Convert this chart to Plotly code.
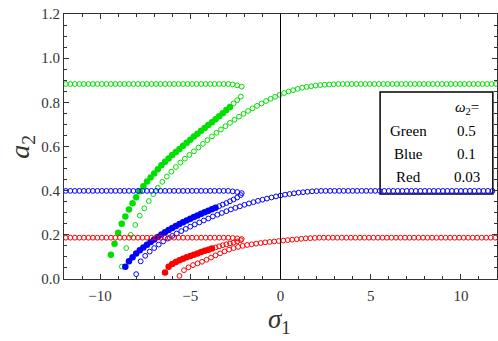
import plotly.graph_objects as go

# ---------------- data ----------------
# left flat branches (shared sigma grid)
sigma_flat = [-11.9, -11.65, -11.4, -11.15, -10.9, -10.65, -10.4, -10.15, -9.9, -9.65,
              -9.4, -9.15, -8.9, -8.65, -8.4, -8.15, -7.9, -7.65, -7.4, -7.15,
              -6.9, -6.65, -6.4, -6.15, -5.9, -5.65, -5.4, -5.15, -4.9, -4.65,
              -4.4, -4.15, -3.9, -3.65, -3.4, -3.15, -2.9, -2.65, -2.4, -2.15]
a_green_flat = [0.883, 0.883, 0.883, 0.883, 0.883, 0.883, 0.883, 0.883, 0.883, 0.883,
                0.883, 0.883, 0.883, 0.883, 0.883, 0.883, 0.883, 0.883, 0.883, 0.883,
                0.883, 0.883, 0.883, 0.883, 0.883, 0.883, 0.883, 0.883, 0.883, 0.883,
                0.883, 0.883, 0.883, 0.883, 0.883, 0.883, 0.883, 0.881, 0.877, 0.871]
a_blue_flat = [0.399, 0.399, 0.399, 0.399, 0.399, 0.399, 0.399, 0.399, 0.399, 0.399,
               0.399, 0.399, 0.399, 0.399, 0.399, 0.399, 0.399, 0.399, 0.399, 0.399,
               0.399, 0.399, 0.399, 0.399, 0.399, 0.399, 0.399, 0.399, 0.399, 0.399,
               0.399, 0.399, 0.399, 0.399, 0.399, 0.399, 0.399, 0.397, 0.394, 0.389]
a_red_flat = [0.187, 0.187, 0.187, 0.187, 0.187, 0.187, 0.187, 0.187, 0.187, 0.187,
              0.187, 0.187, 0.187, 0.187, 0.187, 0.187, 0.187, 0.187, 0.187, 0.187,
              0.187, 0.187, 0.187, 0.187, 0.187, 0.187, 0.187, 0.187, 0.187, 0.187,
              0.187, 0.187, 0.187, 0.187, 0.187, 0.187, 0.187, 0.186, 0.184, 0.181]

# green (omega2 = 0.5)
sigma_green_fill = [-9.4, -9.2, -9.0, -8.8, -8.6, -8.4, -8.2, -8.0, -7.8, -7.6,
                    -7.4, -7.2, -7.0, -6.8, -6.6, -6.4, -6.2, -6.0, -5.8, -5.6,
                    -5.4, -5.2, -5.0, -4.8, -4.6, -4.4, -4.2, -4.0, -3.8, -3.6,
                    -3.4, -3.2, -3.0, -2.8]
a_green_fill = [0.11, 0.16, 0.21, 0.25, 0.283, 0.315, 0.343, 0.37, 0.397, 0.42,
                0.441, 0.46, 0.478, 0.497, 0.515, 0.531, 0.546, 0.561, 0.575, 0.589,
                0.603, 0.617, 0.631, 0.645, 0.658, 0.671, 0.684, 0.697, 0.71, 0.723,
                0.737, 0.751, 0.765, 0.779]
sigma_green_fold = [-2.6, -2.4, -2.2]
a_green_fold = [0.795, 0.81, 0.826]
sigma_green_lower = [-8.8, -8.55, -8.3, -8.05, -7.8, -7.55, -7.3, -7.05, -6.8, -6.55,
                     -6.3, -6.05, -5.8, -5.55, -5.3, -5.05, -4.8, -4.55, -4.3, -4.05,
                     -3.8, -3.55, -3.3, -3.05, -2.8, -2.55, -2.3, -2.05, -1.8, -1.55,
                     -1.3, -1.05, -0.8, -0.55, -0.3, -0.05, 0.2, 0.45, 0.7, 0.95,
                     1.2, 1.45, 1.7, 1.95, 2.2, 2.45, 2.7, 2.95, 3.2, 3.45,
                     3.7, 3.95, 4.2, 4.45, 4.7, 4.95, 5.2, 5.45, 5.7, 5.95,
                     6.2, 6.45, 6.7, 6.95, 7.2, 7.45, 7.7, 7.95, 8.2, 8.45,
                     8.7, 8.95, 9.2, 9.45, 9.7, 9.95, 10.2, 10.45, 10.7, 10.95,
                     11.2, 11.45, 11.7, 11.95]
a_green_lower = [0.056, 0.14, 0.2, 0.245, 0.287, 0.32, 0.353, 0.384, 0.413, 0.44,
                 0.464, 0.486, 0.507, 0.527, 0.545, 0.562, 0.578, 0.595, 0.612, 0.629,
                 0.646, 0.662, 0.677, 0.692, 0.707, 0.721, 0.735, 0.748, 0.761, 0.773,
                 0.784, 0.795, 0.806, 0.816, 0.825, 0.834, 0.842, 0.849, 0.855, 0.861,
                 0.866, 0.87, 0.873, 0.876, 0.878, 0.88, 0.881, 0.882, 0.883, 0.883,
                 0.883, 0.883, 0.883, 0.883, 0.883, 0.883, 0.883, 0.883, 0.883, 0.883,
                 0.883, 0.883, 0.883, 0.883, 0.883, 0.883, 0.883, 0.883, 0.883, 0.883,
                 0.883, 0.883, 0.883, 0.883, 0.883, 0.883, 0.883, 0.883, 0.883, 0.883,
                 0.883, 0.883, 0.883, 0.883]

# blue (omega2 = 0.1)
sigma_blue_fill = [-8.6, -8.4, -8.2, -8.0, -7.8, -7.6, -7.4, -7.2, -7.0, -6.8,
                   -6.6, -6.4, -6.2, -6.0, -5.8, -5.6, -5.4, -5.2, -5.0, -4.8,
                   -4.6, -4.4, -4.2, -4.0, -3.8, -3.6]
a_blue_fill = [0.055, 0.08, 0.099, 0.115, 0.13, 0.143, 0.155, 0.167, 0.179, 0.19,
               0.201, 0.212, 0.222, 0.231, 0.24, 0.249, 0.257, 0.265, 0.273, 0.281,
               0.288, 0.295, 0.302, 0.309, 0.316, 0.323]
sigma_blue_fold = [-3.4, -3.2, -3.0, -2.8, -2.6, -2.4, -2.2]
a_blue_fold = [0.33, 0.337, 0.344, 0.352, 0.36, 0.369, 0.38]
sigma_blue_lower = [-8.0, -7.75, -7.5, -7.25, -7.0, -6.75, -6.5, -6.25, -6.0, -5.75,
                    -5.5, -5.25, -5.0, -4.75, -4.5, -4.25, -4.0, -3.75, -3.5, -3.25,
                    -3.0, -2.75, -2.5, -2.25, -2.0, -1.75, -1.5, -1.25, -1.0, -0.75,
                    -0.5, -0.25, 0.0, 0.25, 0.5, 0.75, 1.0, 1.25, 1.5, 1.75,
                    2.0, 2.25, 2.5, 2.75, 3.0, 3.25, 3.5, 3.75, 4.0, 4.25,
                    4.5, 4.75, 5.0, 5.25, 5.5, 5.75, 6.0, 6.25, 6.5, 6.75,
                    7.0, 7.25, 7.5, 7.75, 8.0, 8.25, 8.5, 8.75, 9.0, 9.25,
                    9.5, 9.75, 10.0, 10.25, 10.5, 10.75, 11.0, 11.25, 11.5, 11.75]
a_blue_lower = [0.022, 0.08, 0.105, 0.124, 0.14, 0.156, 0.17, 0.183, 0.195, 0.206,
                0.217, 0.227, 0.237, 0.247, 0.256, 0.265, 0.274, 0.283, 0.291, 0.299,
                0.307, 0.315, 0.322, 0.329, 0.336, 0.342, 0.348, 0.354, 0.359, 0.364,
                0.369, 0.374, 0.378, 0.382, 0.385, 0.388, 0.391, 0.393, 0.395, 0.397,
                0.398, 0.399, 0.399, 0.399, 0.399, 0.399, 0.399, 0.399, 0.399, 0.399,
                0.399, 0.399, 0.399, 0.399, 0.399, 0.399, 0.399, 0.399, 0.399, 0.399,
                0.399, 0.399, 0.399, 0.399, 0.399, 0.399, 0.399, 0.399, 0.399, 0.399,
                0.399, 0.399, 0.399, 0.399, 0.399, 0.399, 0.399, 0.399, 0.399, 0.399]

# red (omega2 = 0.03)
sigma_red_fill = [-6.4, -6.2, -6.0, -5.8, -5.6, -5.4, -5.2, -5.0, -4.8, -4.6,
                  -4.4, -4.2, -4.0, -3.8]
a_red_fill = [0.03, 0.055, 0.068, 0.077, 0.085, 0.092, 0.098, 0.104, 0.11, 0.116,
              0.122, 0.128, 0.133, 0.138]
sigma_red_fold = [-3.6, -3.4, -3.2, -3.0, -2.8, -2.6, -2.4, -2.2]
a_red_fold = [0.143, 0.148, 0.153, 0.157, 0.161, 0.165, 0.17, 0.176]
sigma_red_lower = [-5.6, -5.35, -5.1, -4.85, -4.6, -4.35, -4.1, -3.85, -3.6, -3.35,
                   -3.1, -2.85, -2.6, -2.35, -2.1, -1.85, -1.6, -1.35, -1.1, -0.85,
                   -0.6, -0.35, -0.1, 0.15, 0.4, 0.65, 0.9, 1.15, 1.4, 1.65,
                   1.9, 2.15, 2.4, 2.65, 2.9, 3.15, 3.4, 3.65, 3.9, 4.15,
                   4.4, 4.65, 4.9, 5.15, 5.4, 5.65, 5.9, 6.15, 6.4, 6.65,
                   6.9, 7.15, 7.4, 7.65, 7.9, 8.15, 8.4, 8.65, 8.9, 9.15,
                   9.4, 9.65, 9.9, 10.15, 10.4, 10.65, 10.9, 11.15, 11.4, 11.65,
                   11.9]
a_red_lower = [0.014, 0.04, 0.053, 0.063, 0.071, 0.078, 0.087, 0.097, 0.107, 0.116,
               0.125, 0.133, 0.14, 0.145, 0.15, 0.154, 0.157, 0.16, 0.163, 0.166,
               0.168, 0.17, 0.172, 0.174, 0.176, 0.178, 0.18, 0.182, 0.184, 0.185,
               0.186, 0.187, 0.187, 0.187, 0.187, 0.187, 0.187, 0.187, 0.187, 0.187,
               0.187, 0.187, 0.187, 0.187, 0.187, 0.187, 0.187, 0.187, 0.187, 0.187,
               0.187, 0.187, 0.187, 0.187, 0.187, 0.187, 0.187, 0.187, 0.187, 0.187,
               0.187, 0.187, 0.187, 0.187, 0.187, 0.187, 0.187, 0.187, 0.187, 0.187,
               0.187]

x_tick_vals = [-10, -5, 0, 5, 10]
y_tick_vals = [0.0, 0.2, 0.4, 0.6, 0.8, 1.0, 1.2]
y_tick_text = ["0.0", "0.2", "0.4", "0.6", "0.8", "1.0", "1.2"]

legend_names = ["Green", "Blue", "Red"]
legend_omegas = ["0.5", "0.1", "0.03"]

# ---------------- styling ----------------
GREEN = "#00e000"
BLUE = "#0000ff"
RED = "#ff0000"
OPEN_SIZE = 4.8
FILL_SIZE = 6.5

fig = go.Figure()


def open_trace(xs, ys, color):
    fig.add_trace(go.Scatter(
        x=xs, y=ys, mode="markers",
        marker=dict(symbol="circle-open", size=OPEN_SIZE, color=color,
                    line=dict(width=1, color=color)),
        hoverinfo="skip"))


def fill_trace(xs, ys, color):
    fig.add_trace(go.Scatter(
        x=xs, y=ys, mode="markers",
        marker=dict(symbol="circle", size=FILL_SIZE, color=color),
        hoverinfo="skip"))


for col, flat, sf, af, sfo, afo, sl, al in [
    (GREEN, a_green_flat, sigma_green_fill, a_green_fill, sigma_green_fold, a_green_fold,
     sigma_green_lower, a_green_lower),
    (BLUE, a_blue_flat, sigma_blue_fill, a_blue_fill, sigma_blue_fold, a_blue_fold,
     sigma_blue_lower, a_blue_lower),
    (RED, a_red_flat, sigma_red_fill, a_red_fill, sigma_red_fold, a_red_fold,
     sigma_red_lower, a_red_lower),
]:
    open_trace(sigma_flat, flat, col)
    open_trace(sl, al, col)
    open_trace(sfo, afo, col)
    fill_trace(sf, af, col)

AX = "#333333"
fig.update_layout(
    width=498, height=341,
    margin=dict(l=64, r=1, t=14, b=62),
    plot_bgcolor="white", paper_bgcolor="white",
    showlegend=False,
    font=dict(family="Liberation Serif", size=15, color="#333333"),
)
fig.update_xaxes(
    range=[-12, 12], tickvals=x_tick_vals, ticks="inside", ticklen=5, tickwidth=1,
    tickcolor=AX, showline=True, linecolor=AX, linewidth=1, mirror="ticks",
    showgrid=False, zeroline=False, ticklabelstandoff=3,
    minor=dict(tick0=0, dtick=1, ticks="inside", ticklen=3, tickcolor=AX, showgrid=False),
    tickfont=dict(size=15, color="#333333"),
)
fig.update_yaxes(
    range=[0, 1.2], tickvals=y_tick_vals, ticktext=y_tick_text, ticks="inside",
    ticklen=5, tickwidth=1, tickcolor=AX, showline=True, linecolor=AX, linewidth=1,
    mirror="ticks", showgrid=False, zeroline=False,
    minor=dict(tick0=0, dtick=0.05, ticks="inside", ticklen=3, tickcolor=AX, showgrid=False),
    tickfont=dict(size=15, color="#333333"),
)

# vertical line at sigma = 0
fig.add_shape(type="line", xref="x", yref="y", x0=0, x1=0, y0=0, y1=1.2,
              line=dict(color="black", width=1), layer="above")

# legend box
fig.add_shape(type="rect", xref="x", yref="y", x0=5.52, x1=11.77, y0=0.385, y1=0.847,
              line=dict(color="black", width=1.5), fillcolor="white", layer="below")
fig.add_annotation(x=10.33, y=0.774, xref="x", yref="y", showarrow=False,
                   xanchor="center", yanchor="middle",
                   text="<i>ω</i><sub>2</sub>=", font=dict(size=15, color="black"))
for i, (nm, om) in enumerate(zip(legend_names, legend_omegas)):
    yy = 0.67 - i * 0.104
    fig.add_annotation(x=7.07, y=yy, xref="x", yref="y", showarrow=False,
                       xanchor="center", yanchor="middle",
                       text=nm, font=dict(size=15, color="black"))
    fig.add_annotation(x=10.33, y=yy, xref="x", yref="y", showarrow=False,
                       xanchor="center", yanchor="middle",
                       text=om, font=dict(size=15, color="black"))

# axis titles
fig.add_annotation(x=-0.099, y=0.5, xref="paper", yref="paper", showarrow=False,
                   xanchor="center", yanchor="middle",
                   text="<i>a</i><sub>2</sub>", textangle=-90,
                   font=dict(size=28, color="#333333"))
fig.add_annotation(x=0.498, y=-0.16, xref="paper", yref="paper", showarrow=False,
                   xanchor="center", yanchor="middle",
                   text="<i>σ</i><sub>1</sub>",
                   font=dict(size=27, color="#333333"))

fig.write_html("out.html")
